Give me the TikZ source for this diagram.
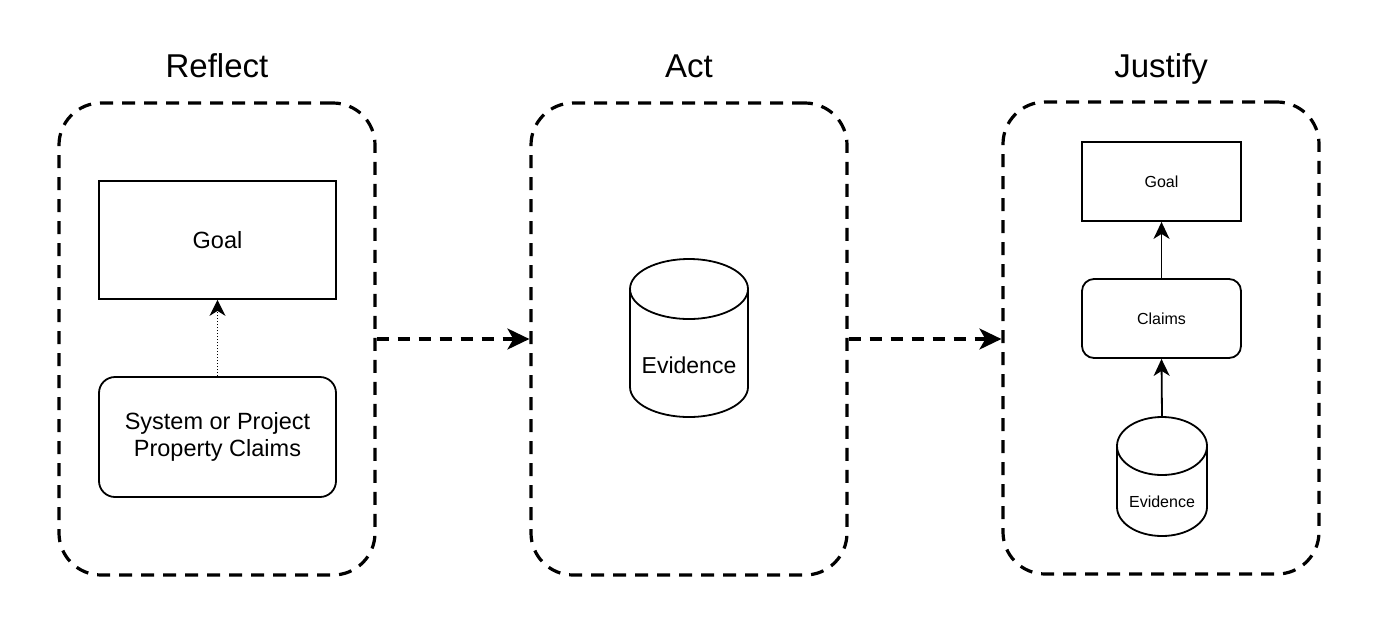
\documentclass[tikz,border=0pt]{standalone}
\usepackage{fontspec}
\setmainfont{Liberation Sans}
\usetikzlibrary{arrows.meta}
\begin{document}
\begin{tikzpicture}[x=1pt,y=-1pt,
  container/.style={draw, line width=3.2pt, dash pattern=on 13pt off 9pt, rounded corners=42pt, minimum width=316pt, minimum height=472pt, inner sep=0pt},
  title/.style={font=\fontsize{33}{40}\selectfont, anchor=base, inner sep=0pt},
  bigbox/.style={draw, line width=1.8pt, minimum width=237pt, minimum height=118pt, inner sep=0pt, font=\fontsize{23.5}{27}\selectfont, align=center},
  smallbox/.style={draw, line width=1.8pt, minimum width=159pt, minimum height=79pt, inner sep=0pt, font=\fontsize{16}{19}\selectfont},
  cylframe/.style={inner sep=0pt, outer sep=0pt},
  cylline/.style={line width=1.8pt, line join=round},
  dasharrow/.style={line width=3.2pt, dash pattern=on 12pt off 9pt, -{Stealth[length=22pt, width=21pt, inset=6pt]}},
  dotarrow/.style={line width=1.3pt, dash pattern=on 1.5pt off 1.5pt, -{Stealth[length=16pt, width=16pt, inset=5pt, sep=0pt]}},
  solidarrow/.style={line width=1.8pt, -{Stealth[length=17pt, width=16pt, inset=5pt]}}
]
\useasboundingbox (0,0) rectangle (1384,638);

% titles
\node[title] (tReflect) at (217,77) {Reflect};
\node[title] (tAct) at (689,77) {Act};
\node[title] (tJustify) at (1161,77) {Justify};

% containers
\node[container] (reflectbox) at (217,339) {};
\node[container] (actbox) at (689,339) {};
\node[container] (justifybox) at (1161,338) {};

% Reflect contents
\node[bigbox] (goalA) at (217.5,240) {Goal};
\node[bigbox, rounded corners=16pt, minimum height=120pt] (sysclaims) at (217.5,437) {System or Project\\Property Claims};
\draw[dotarrow] (sysclaims.north) -- (goalA.south);

% Act contents: cylinder
\node[cylframe, minimum width=118pt, minimum height=158pt] (evA) at (689,338) {};
\draw[cylline] (630,289) -- (630,387) .. controls (630,403.6) and (656.4,417) .. (689,417)
  .. controls (721.6,417) and (748,403.6) .. (748,387) -- (748,289);
\draw[cylline] (689,289) ellipse [x radius=59, y radius=30];
\node[font=\fontsize{23}{27}\selectfont, inner sep=0pt] (evAtext) at (689,365) {Evidence};

% Justify contents
\node[smallbox] (goalB) at (1161.5,181.5) {Goal};
\node[smallbox, rounded corners=12pt] (claimsB) at (1161.5,318.5) {Claims};
\node[cylframe, minimum width=90pt, minimum height=119pt] (evB) at (1162,476.5) {};
\draw[cylline] (1117,446) -- (1117,507) .. controls (1117,523) and (1137.1,536) .. (1162,536)
  .. controls (1186.9,536) and (1207,523) .. (1207,507) -- (1207,446);
\draw[cylline] (1162,446) ellipse [x radius=45, y radius=29];
\node[font=\fontsize{16}{19}\selectfont, inner sep=0pt] (evBtext) at (1162,502) {Evidence};

\draw[solidarrow] (evB.north) -- (claimsB.south);
\draw[solidarrow] (claimsB.north) -- (goalB.south);

% phase connectors
\draw[dasharrow] (reflectbox.east) -- (actbox.west);
\draw[dasharrow] (actbox.east) -- (justifybox.west |- actbox.east);
\end{tikzpicture}
\end{document}
